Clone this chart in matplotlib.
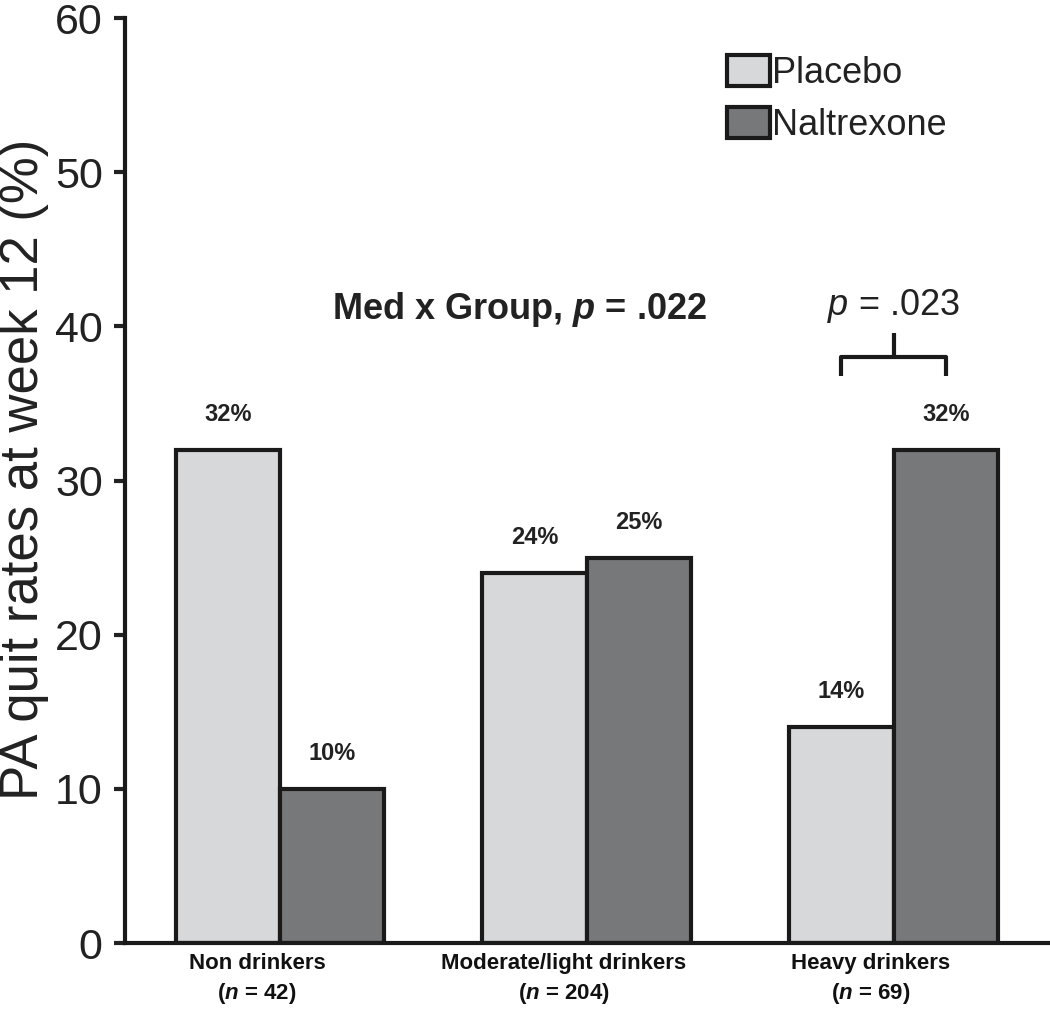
import numpy as np
import matplotlib.pyplot as plt

plt.rcParams['font.family'] = ['Liberation Sans', 'DejaVu Sans']
plt.rcParams['mathtext.fontset'] = 'custom'
plt.rcParams['mathtext.it'] = 'Liberation Sans:italic'
plt.rcParams['mathtext.bf'] = 'Liberation Sans:bold'
plt.rcParams['mathtext.bfit'] = 'Liberation Sans:italic:bold'

# data
groups = ['Non drinkers', 'Moderate/light drinkers', 'Heavy drinkers']
group_n = [42, 204, 69]
placebo = [32, 24, 14]
naltrexone = [10, 25, 32]
series_names = ['Placebo', 'Naltrexone']

col_placebo = '#d7d8da'
col_nal = '#77787a'
edge = '#1a1a1a'

fig = plt.figure(figsize=(10.5, 10.23), dpi=100)
ax = fig.add_axes([0.119, 0.0782, 0.881, 0.9042])

x = np.arange(len(groups))
w = 0.34
b1 = ax.bar(x - w/2, placebo, w, color=col_placebo, edgecolor=edge, linewidth=3, label=series_names[0])
b2 = ax.bar(x + w/2, naltrexone, w, color=col_nal, edgecolor=edge, linewidth=3, label=series_names[1])

# value labels
for xi, v in zip(x - w/2, placebo):
    ax.text(xi, v + 2.3, f'{v}%', ha='center', va='center', fontsize=17, fontweight='bold', color='#222222')
for xi, v in zip(x + w/2, naltrexone):
    ax.text(xi, v + 2.3, f'{v}%', ha='center', va='center', fontsize=17, fontweight='bold', color='#222222')

ax.set_xlim(-0.505, 2.51)
ax.set_ylim(0, 60)
ax.set_yticks(np.arange(0, 61, 10))
ax.tick_params(axis='y', labelsize=31, length=8, width=3, pad=8, colors='#222222')
ax.set_xticks([])
for s in ['top', 'right']:
    ax.spines[s].set_visible(False)
ax.spines['left'].set_linewidth(3)
ax.spines['bottom'].set_linewidth(3)
ax.spines['left'].set_color(edge)
ax.spines['bottom'].set_color(edge)

ax.set_ylabel('PA quit rates at week 12 (%)', fontsize=38, color='#222222')
ax.yaxis.set_label_coords(-0.082, 0.512)

# category labels
for xi, g, n in zip(x, groups, group_n):
    ax.text(xi - 0.075, -1.3, g, ha='center', va='center', fontsize=16, fontweight='bold',
            color='#111111')
    ax.text(xi - 0.075, -3.3, rf'($\mathbfit{{n}}$ = {n})', ha='center', va='center', fontsize=16,
            fontweight='bold', color='#111111')

# annotations
ax.text(0.78, 41.1, r'Med x Group, $\mathbfit{p}$ = .022', ha='center', va='center', fontsize=26,
        fontweight='bold', color='#222222')

xa, xb = 2 - w/2, 2 + w/2
ax.plot([xa, xa, xb, xb], [36.8, 38.0, 38.0, 36.8], color=edge, lw=3, solid_capstyle='butt')
ax.plot([2, 2], [38.0, 39.6], color=edge, lw=3, solid_capstyle='butt')
ax.text(2.0, 41.3, r'$\mathit{p}$ = .023', ha='center', va='center', fontsize=26, color='#222222')

leg = ax.legend(handles=[b1, b2], loc='upper left', bbox_to_anchor=(0.651, 0.96), frameon=False,
                fontsize=26, handlelength=1.2, handleheight=0.95, handletextpad=0.05,
                labelspacing=0.45, borderpad=0, borderaxespad=0)
for t in leg.get_texts():
    t.set_color('#222222')

fig.savefig('out.png', dpi=100)
